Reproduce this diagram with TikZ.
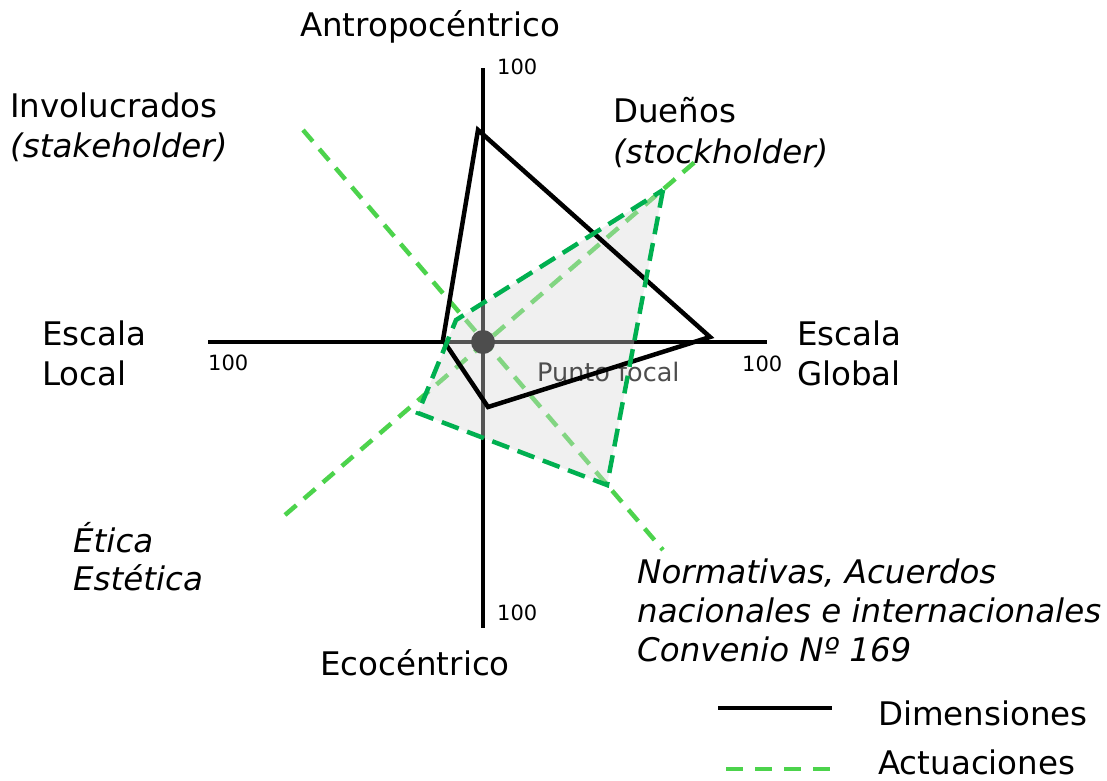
\documentclass[tikz,border=0pt]{standalone}
\usepackage{fontspec}
\setmainfont{DejaVu Sans}
\definecolor{lgreen}{RGB}{76,211,76}
\definecolor{dgreen}{RGB}{0,176,80}
\definecolor{fillgray}{RGB}{217,217,217}
\definecolor{dotgray}{RGB}{77,77,77}
\begin{document}
\begin{tikzpicture}[x=1pt,y=-1pt,
  axis/.style={line width=4.5pt},
  diag/.style={line width=4.5pt,lgreen,dash pattern=on 15pt off 10pt},
  dimpoly/.style={line width=4.5pt,black},
  actpoly/.style={line width=4.5pt,dgreen,dash pattern=on 18pt off 9pt},
  lbl/.style={font=\fontsize{32.5}{39}\selectfont,inner sep=0pt},
  ilbl/.style={font=\fontsize{32.5}{39}\selectfont\itshape,inner sep=0pt},
  num/.style={font=\fontsize{21}{25}\selectfont,inner sep=0pt}]
\useasboundingbox (0,0) rectangle (1107,780);
% axes
\coordinate (axL) at (208,342);
\coordinate (axR) at (767,342);
\coordinate (axT) at (483,68);
\coordinate (axB) at (483,628);
\coordinate (ctr) at (483,342);
\draw[axis] (axL) -- (axR);
\draw[axis] (axT) -- (axB);
% diagonals
\coordinate (d1a) at (303,130);
\coordinate (d1b) at (663,550);
\coordinate (d2a) at (285,515);
\coordinate (d2b) at (703,155);
\draw[diag] (d1a) -- (d1b);
\draw[diag] (d2a) -- (d2b);
% actuaciones polygon
\coordinate (aA) at (663,190);
\coordinate (aB) at (607,485);
\coordinate (aC) at (418,413);
\coordinate (aD) at (456,320);
\fill[fillgray,fill opacity=0.39] (aA) -- (aB) -- (aC) -- (aD) -- cycle;
% focal point
\node[circle,fill=dotgray,minimum size=24pt,inner sep=0pt] (focal) at (ctr) {};
\node[font=\fontsize{25.5}{30}\selectfont,text=dotgray,inner sep=0pt,anchor=base west] (pf) at (537,381) {Punto focal};
% dimensiones polygon
\coordinate (pT) at (478,130);
\coordinate (pR) at (710,337);
\coordinate (pB) at (488,407);
\coordinate (pL) at (443,340);
\draw[dimpoly] (pT) -- (pR) -- (pB) -- (pL) -- cycle;
\draw[actpoly] (aA) -- (aB) -- (aC) -- (aD) -- cycle;
% axis numbers
\node[num,anchor=base west] (nL) at (208,370) {100};
\node[num,anchor=base west] (nR) at (742,371) {100};
\node[num,anchor=base west] (nT) at (497,74) {100};
\node[num,anchor=base west] (nB) at (497,620) {100};
% labels
\node[lbl,anchor=base] (antro) at (430,36) {Antropocéntrico};
\node[lbl,anchor=base] (eco) at (415,675) {Ecocéntrico};
\node[lbl,anchor=base west] (inv1) at (10,117) {Involucrados};
\node[ilbl,anchor=base west] (inv2) at (10,157) {(stakeholder)};
\node[lbl,anchor=base west] (due1) at (613,122) {Dueños};
\node[ilbl,anchor=base west] (due2) at (613,163) {(stockholder)};
\node[lbl,anchor=base west] (el1) at (42,345) {Escala};
\node[lbl,anchor=base west] (el2) at (42,385) {Local};
\node[lbl,anchor=base west] (eg1) at (797,345) {Escala};
\node[lbl,anchor=base west] (eg2) at (797,385) {Global};
\node[ilbl,anchor=base west] (et1) at (73,552) {Ética};
\node[ilbl,anchor=base west] (et2) at (73,590) {Estética};
\node[ilbl,anchor=base west] (no1) at (637,583) {Normativas, Acuerdos};
\node[ilbl,anchor=base west] (no2) at (637,622) {nacionales e internacionales};
\node[ilbl,anchor=base west] (no3) at (637,661) {Convenio Nº 169};
% legend
\coordinate (lg1a) at (718,708);
\coordinate (lg1b) at (832,708);
\coordinate (lg2a) at (726,769);
\coordinate (lg2b) at (830,769);
\draw[dimpoly] (lg1a) -- (lg1b);
\draw[line width=4.5pt,lgreen,dash pattern=on 17pt off 12pt] (lg2a) -- (lg2b);
\node[lbl,anchor=base west] (legD) at (878,725) {Dimensiones};
\node[lbl,anchor=base west] (legA) at (878,774) {Actuaciones};
\end{tikzpicture}
\end{document}
